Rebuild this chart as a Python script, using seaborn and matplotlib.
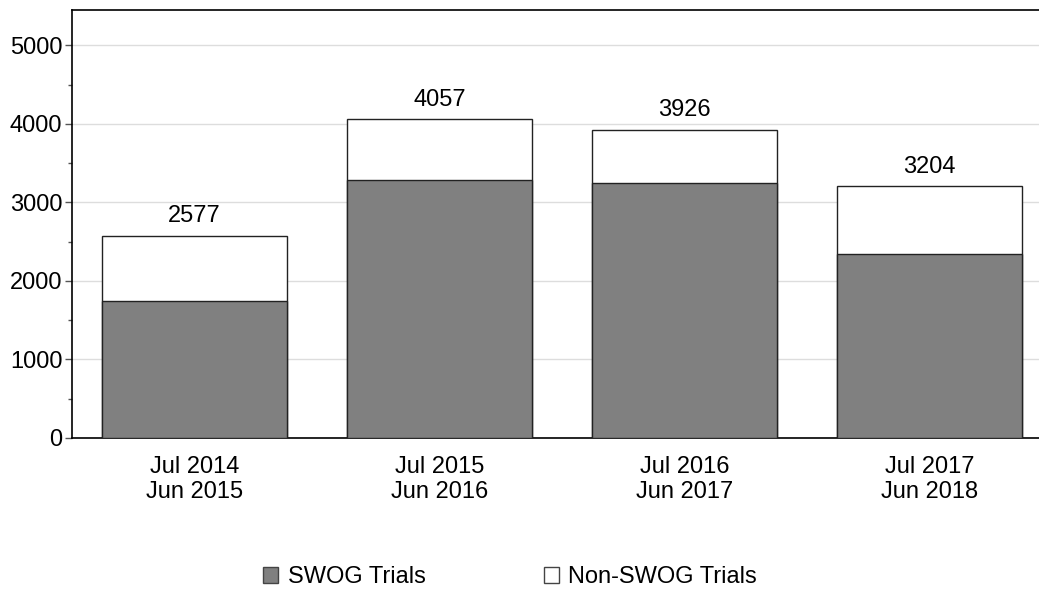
import pandas as pd
import matplotlib
matplotlib.use("Agg")
import matplotlib.pyplot as plt
from matplotlib.patches import Patch
from matplotlib.ticker import MultipleLocator
import seaborn as sns

# data
periods = ["Jul 2014\nJun 2015", "Jul 2015\nJun 2016", "Jul 2016\nJun 2017", "Jul 2017\nJun 2018"]
totals = [2577, 4057, 3926, 3204]
swog = [1745, 3285, 3250, 2340]

df = pd.DataFrame({"period": periods, "total": totals, "swog": swog})

sns.set_theme(style="white")
plt.rcParams["font.family"] = ["Liberation Sans", "DejaVu Sans"]
plt.rcParams["text.color"] = "black"

FS = 17
W, H = 1039, 591
fig = plt.figure(figsize=(W / 100, H / 100), dpi=100)
# axes run off the right edge like the original
ax = fig.add_axes([72 / W, 1 - 438 / H, 980 / W, (438 - 10) / H])

sns.barplot(data=df, x="period", y="total", color="white", edgecolor="#222222",
            linewidth=1, width=0.755, saturation=1, ax=ax, zorder=2)
sns.barplot(data=df, x="period", y="swog", color="#808080", edgecolor="#222222",
            linewidth=1, width=0.755, saturation=1, ax=ax, zorder=3)

for i, t in enumerate(totals):
    ax.text(i, t + 110, str(t), ha="center", va="bottom", fontsize=FS, color="black")

ax.set_xlim(-0.5, 3.5)
ax.set_ylim(0, 5450)
ax.yaxis.set_major_locator(MultipleLocator(1000))
ax.yaxis.set_minor_locator(MultipleLocator(500))
ax.grid(axis="y", which="major", color="#dddddd", linewidth=1, zorder=0)
ax.set_axisbelow(True)
ax.set_xlabel("")
ax.set_ylabel("")

for side in ["left", "bottom", "top"]:
    ax.spines[side].set_color("black")
    ax.spines[side].set_linewidth(1.2)
ax.spines["right"].set_visible(False)

ax.tick_params(axis="y", which="major", left=True, length=5, width=1, color="#555555",
               labelsize=FS, pad=2, labelcolor="black")
ax.tick_params(axis="y", which="minor", left=True, length=3, width=1, color="#555555")
ax.tick_params(axis="x", bottom=False, labelsize=FS, pad=7, labelcolor="black")

handles = [Patch(facecolor="#808080", edgecolor="#444444", label="SWOG Trials"),
           Patch(facecolor="white", edgecolor="#444444", label="Non-SWOG Trials")]
leg = fig.legend(handles=handles, loc="center", bbox_to_anchor=(510 / W, 1 - 577 / H), ncol=2,
                 frameon=False, fontsize=FS, handlelength=0.65, handleheight=0.65,
                 handletextpad=0.4, columnspacing=5.0)
for txt in leg.get_texts():
    txt.set_color("black")

fig.savefig("out.png", dpi=100)
